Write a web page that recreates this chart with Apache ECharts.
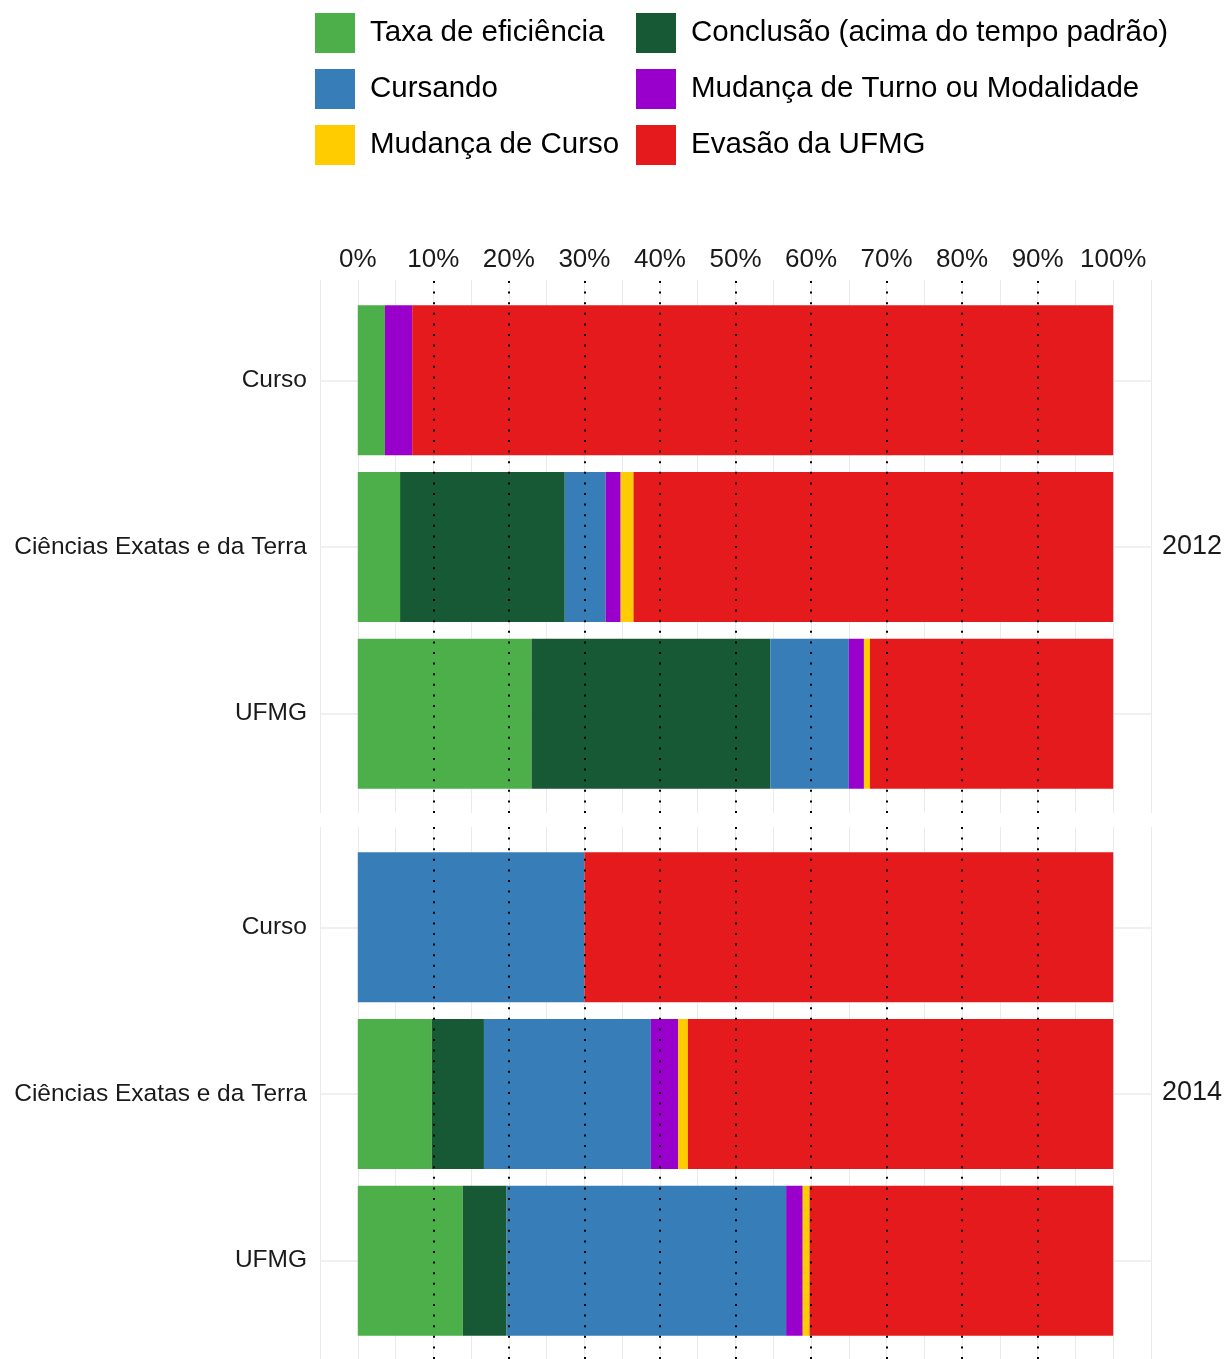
<!DOCTYPE html>
<html>
<head>
<meta charset="utf-8">
<script src="https://cdn.jsdelivr.net/npm/echarts@6/dist/echarts.min.js"></script>
<style>
  html, body { margin: 0; padding: 0; background: #fff; }
  #chart { width: 1226px; height: 1359px; }
</style>
</head>
<body>
<div id="chart"></div>
<script>
// categorias e anos
const categorias = ['Curso', 'Ciências Exatas e da Terra', 'UFMG'];
const anos = ['2012', '2014'];
const seriesNomes = ['Taxa de eficiência', 'Conclusão (acima do tempo padrão)', 'Cursando',
  'Mudança de Turno ou Modalidade', 'Mudança de Curso', 'Evasão da UFMG'];
const cores = ['#4DAF4A', '#165934', '#377EB8', '#9900CC', '#FFCC00', '#E41A1C'];

// valores em % (2012)
const eficiencia2012 = [3.6, 5.6, 23.0];
const conclusao2012 = [0, 21.8, 31.6];
const cursando2012 = [0, 5.4, 10.4];
const turno2012 = [3.6, 2.0, 2.0];
const mudCurso2012 = [0, 1.7, 0.8];
const evasao2012 = [92.8, 63.5, 32.2];

// valores em % (2014)
const eficiencia2014 = [0, 9.8, 13.9];
const conclusao2014 = [0, 6.9, 5.8];
const cursando2014 = [30.0, 22.1, 37.0];
const turno2014 = [0, 3.6, 2.2];
const mudCurso2014 = [0, 1.3, 0.9];
const evasao2014 = [70.0, 56.3, 40.2];

const eixoTicks = [0, 10, 20, 30, 40, 50, 60, 70, 80, 90, 100];
const linhasRef = [10, 20, 30, 40, 50, 60, 70, 80, 90];

const dados = {
  '2012': [eficiencia2012, conclusao2012, cursando2012, turno2012, mudCurso2012, evasao2012],
  '2014': [eficiencia2014, conclusao2014, cursando2014, turno2014, mudCurso2014, evasao2014]
};

const chart = echarts.init(document.getElementById('chart'));

const painelTop = [280, 827];
const barTop = [297, 844];
const fonte = 'Liberation Sans, Arial, sans-serif';

const grids = [];
const xAxes = [];
const yAxes = [];
const series = [];

anos.forEach((ano, i) => {
  // painel de fundo (grade + linhas pontilhadas + rótulo do ano)
  grids.push({ left: 320, width: 831, top: painelTop[i], height: 533 });
  xAxes.push({
    type: 'value', gridIndex: grids.length - 1, min: -5, max: 105, interval: 5,
    position: 'top',
    axisLine: { show: false }, axisTick: { show: false },
    axisLabel: {
      show: i === 0, margin: 7, fontSize: 26, color: '#1A1A1A', fontFamily: fonte,
      formatter: v => eixoTicks.includes(v) ? v + '%' : ''
    },
    splitLine: { show: true, lineStyle: { color: '#EBEBEB', width: 1 } }
  });
  yAxes.push({
    type: 'category', gridIndex: grids.length - 1, data: [ano], position: 'right',
    axisLine: { show: false, onZero: false }, axisTick: { show: false }, splitLine: { show: false },
    axisLabel: { margin: 11, fontSize: 27, color: '#1A1A1A', fontFamily: fonte }
  });
  series.push({
    type: 'bar', xAxisIndex: xAxes.length - 1, yAxisIndex: yAxes.length - 1,
    data: [], z: 10, silent: true,
    markLine: {
      silent: true, symbol: 'none', label: { show: false },
      lineStyle: { color: '#000', width: 2, type: [2, 8.6] },
      data: linhasRef.map(v => ({ xAxis: v }))
    }
  });

  // painel das barras
  grids.push({ left: 320, width: 831, top: barTop[i], height: 500 });
  xAxes.push({ type: 'value', gridIndex: grids.length - 1, min: -5, max: 105, show: false });
  yAxes.push({
    type: 'category', gridIndex: grids.length - 1, data: categorias, inverse: true,
    axisLine: { show: false, onZero: false },
    axisTick: { show: true, inside: true, alignWithLabel: true, length: 831,
      lineStyle: { color: '#EBEBEB', width: 1.5 } },
    axisLabel: { margin: 13, fontSize: 24.5, color: '#1A1A1A', fontFamily: fonte, padding: [2, 0, 0, 0] }
  });
  seriesNomes.forEach((nome, k) => {
    series.push({
      name: nome, type: 'bar', stack: 'total' + ano,
      xAxisIndex: xAxes.length - 1, yAxisIndex: yAxes.length - 1,
      barWidth: '90%', data: dados[ano][k],
      itemStyle: { color: cores[k] }
    });
  });
});

const legendaBase = {
  orient: 'vertical', top: 13, padding: 0, itemWidth: 40, itemHeight: 40, itemGap: 16,
  icon: 'rect', selectedMode: false,
  textStyle: { fontSize: 29.5, color: '#000', fontFamily: fonte, padding: [6, 0, 0, 10] }
};

const option = {
  animation: false,
  backgroundColor: '#fff',
  legend: [
    Object.assign({}, legendaBase, { left: 315, data: [seriesNomes[0], seriesNomes[2], seriesNomes[4]] }),
    Object.assign({}, legendaBase, { left: 636, data: [seriesNomes[1], seriesNomes[3], seriesNomes[5]] })
  ],
  grid: grids,
  xAxis: xAxes,
  yAxis: yAxes,
  series: series
};

option && chart.setOption(option);
</script>
</body>
</html>
